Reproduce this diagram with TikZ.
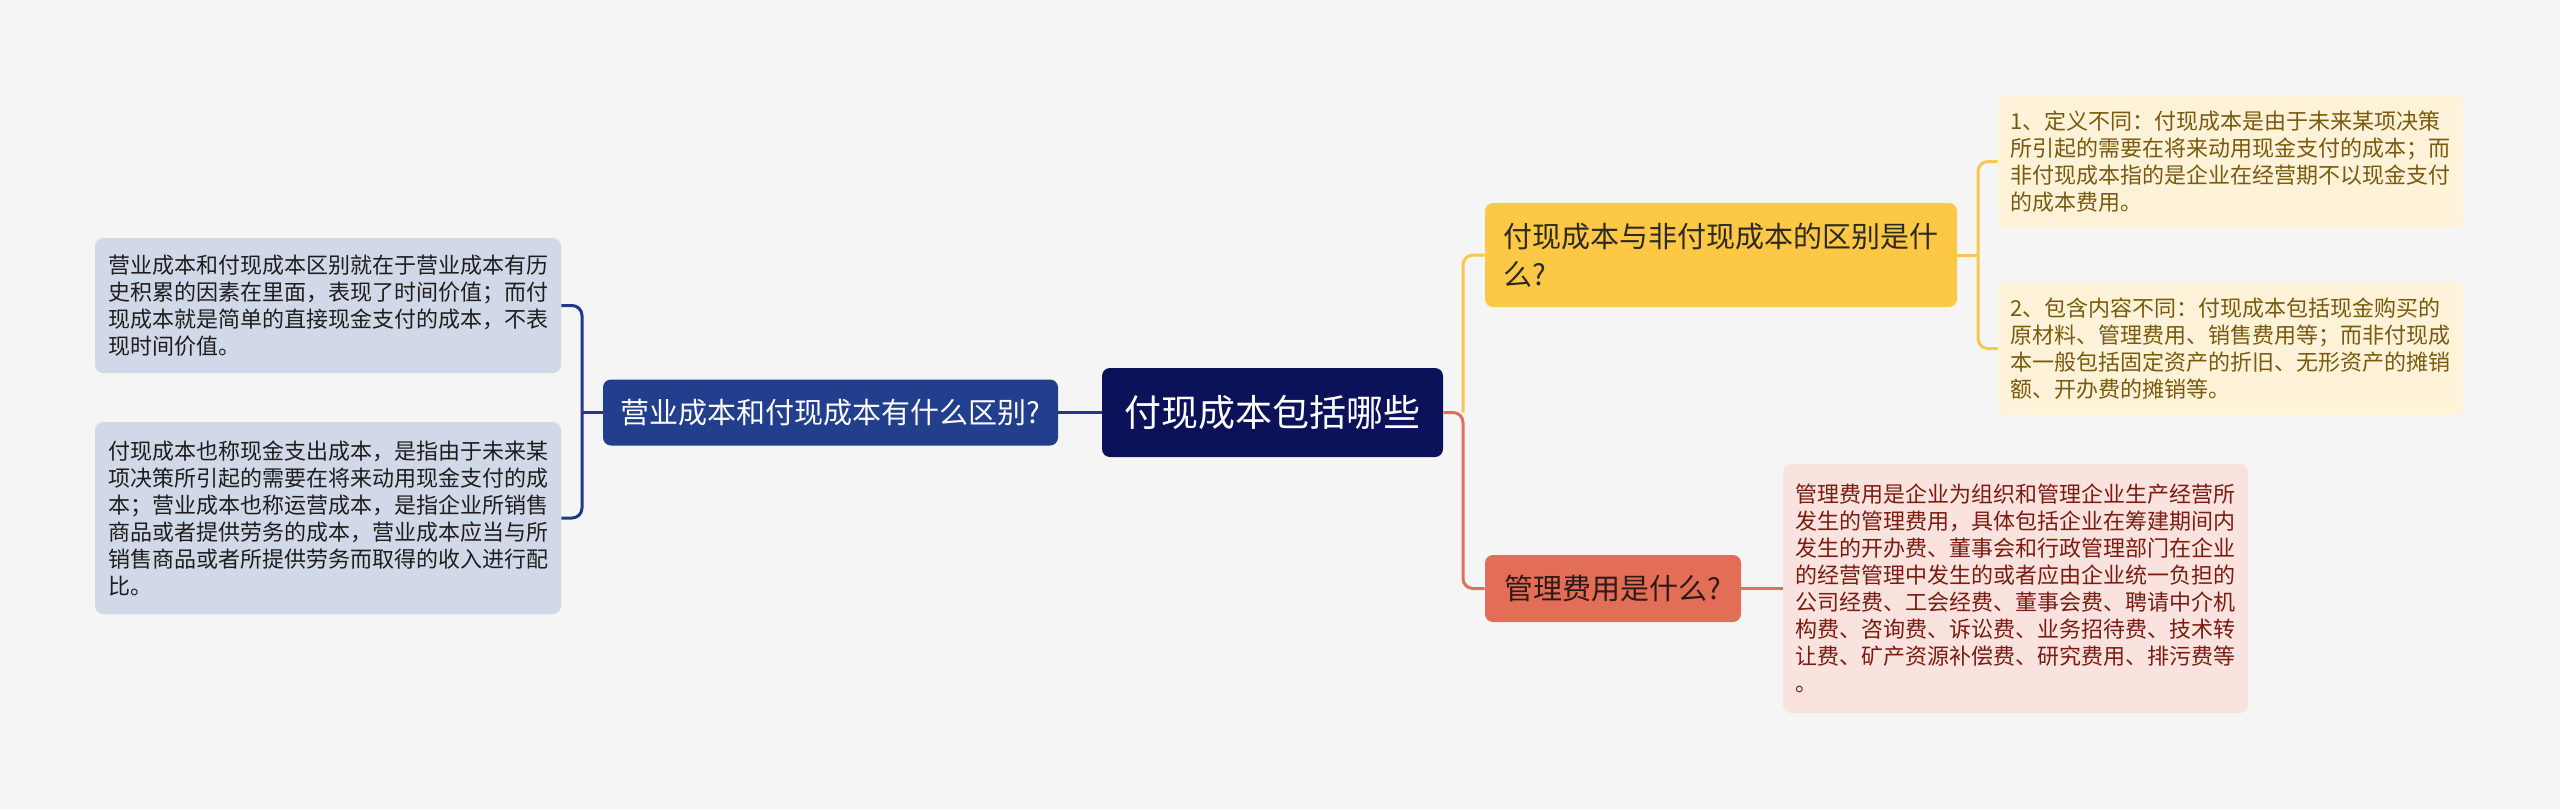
\documentclass[tikz,border=0pt]{standalone}
\usepackage{fontspec}
\setmainfont{Noto Sans CJK SC}
\definecolor{bg}{HTML}{F5F5F5}
\definecolor{rootc}{HTML}{0B1259}
\definecolor{navy}{HTML}{1F3A86}
\definecolor{lmainc}{HTML}{223F8D}
\definecolor{lleafc}{HTML}{D1D8E7}
\definecolor{ltext}{HTML}{1E1E1E}
\definecolor{ymainc}{HTML}{FDC845}
\definecolor{yleafc}{HTML}{FEF2D9}
\definecolor{ylinec}{HTML}{F9C650}
\definecolor{ytext}{HTML}{7A5A0E}
\definecolor{ymtext}{HTML}{2E2A22}
\definecolor{rmainc}{HTML}{E36E58}
\definecolor{rleafc}{HTML}{FAE3DF}
\definecolor{rlinec}{HTML}{E0705A}
\definecolor{rtext}{HTML}{7A1C10}
\definecolor{rmtext}{HTML}{2E1A16}
\tikzset{
  box/.style={rounded corners=4pt, inner sep=0pt, align=left, anchor=center},
  leaf/.style={box, font=\fontsize{11}{13.5}\selectfont},
  mainb/.style={box, font=\fontsize{14.5}{19}\selectfont},
  conn/.style={line width=1.5pt, rounded corners=5pt},
}
\begin{document}
\begin{tikzpicture}[x=0.5pt,y=-0.5pt]
\useasboundingbox[fill=bg] (0,0) rectangle (2560,809);

% root
\node[box, fill=rootc, text=white, minimum width=170.5pt, minimum height=44.5pt,
  font=\fontsize{18.5}{22}\selectfont] (root) at (1272.5,412.5) {付现成本包括哪些};

% left branch
\node[mainb, fill=lmainc, text=white, minimum width=227.5pt, minimum height=33pt]
  (lmain) at (830.5,412.5) {营业成本和付现成本有什么区别?};
\node[leaf, fill=lleafc, text=ltext, minimum width=233pt, minimum height=67.5pt]
  (ll1) at (328,305.5) {营业成本和付现成本区别就在于营业成本有历\\史积累的因素在里面，表现了时间价值；而付\\现成本就是简单的直接现金支付的成本，不表\\现时间价值。};
\node[leaf, fill=lleafc, text=ltext, minimum width=233pt, minimum height=96pt]
  (ll2) at (328,518) {付现成本也称现金支出成本，是指由于未来某\\项决策所引起的需要在将来动用现金支付的成\\本；营业成本也称运营成本，是指企业所销售\\商品或者提供劳务的成本，营业成本应当与所\\销售商品或者所提供劳务而取得的收入进行配\\比。};

% right upper branch
\node[mainb, fill=ymainc, text=ymtext, minimum width=236pt, minimum height=52pt]
  (ymain) at (1721,255) {付现成本与非付现成本的区别是什\\么?};
\node[leaf, fill=yleafc, text=ytext, minimum width=232.5pt, minimum height=66.5pt]
  (rl1) at (2230.5,161.5) {1、定义不同：付现成本是由于未来某项决策\\所引起的需要在将来动用现金支付的成本；而\\非付现成本指的是企业在经营期不以现金支付\\的成本费用。};
\node[leaf, fill=yleafc, text=ytext, minimum width=232.5pt, minimum height=66.5pt]
  (rl2) at (2230.5,348.5) {2、包含内容不同：付现成本包括现金购买的\\原材料、管理费用、销售费用等；而非付现成\\本一般包括固定资产的折旧、无形资产的摊销\\额、开办费的摊销等。};

% right lower branch
\node[mainb, fill=rmainc, text=rmtext, minimum width=128pt, minimum height=33.5pt]
  (rmain) at (1613,588.5) {管理费用是什么?};
\node[leaf, fill=rleafc, text=rtext, minimum width=232.5pt, minimum height=124.5pt]
  (rl3) at (2015.5,588.5) {管理费用是企业为组织和管理企业生产经营所\\发生的管理费用，具体包括企业在筹建期间内\\发生的开办费、董事会和行政管理部门在企业\\的经营管理中发生的或者应由企业统一负担的\\公司经费、工会经费、董事会费、聘请中介机\\构费、咨询费、诉讼费、业务招待费、技术转\\让费、矿产资源补偿费、研究费用、排污费等\\。};

% junction coordinates
\coordinate (lj) at (582,412.5);
\coordinate (rj) at (1463,412.5);
\coordinate (yj) at (1978,255);

% connectors
\draw[conn, navy] (root.west) -- (lmain.east);
\draw[conn, navy] (lmain.west) -- (lj);
\draw[conn, navy] (ll1.east) -| (lj) |- (ll2.east);

\draw[conn, rlinec] (root.east) -- (rj) |- (rmain.west);
\draw[conn, ylinec] (rj) |- (ymain.west);
\draw[conn, ylinec] (ymain.east) -- (yj);
\draw[conn, ylinec] (rl1.west) -| (yj) |- (rl2.west);
\draw[conn, rlinec] (rmain.east) -- (rl3.west);
\end{tikzpicture}
\end{document}
